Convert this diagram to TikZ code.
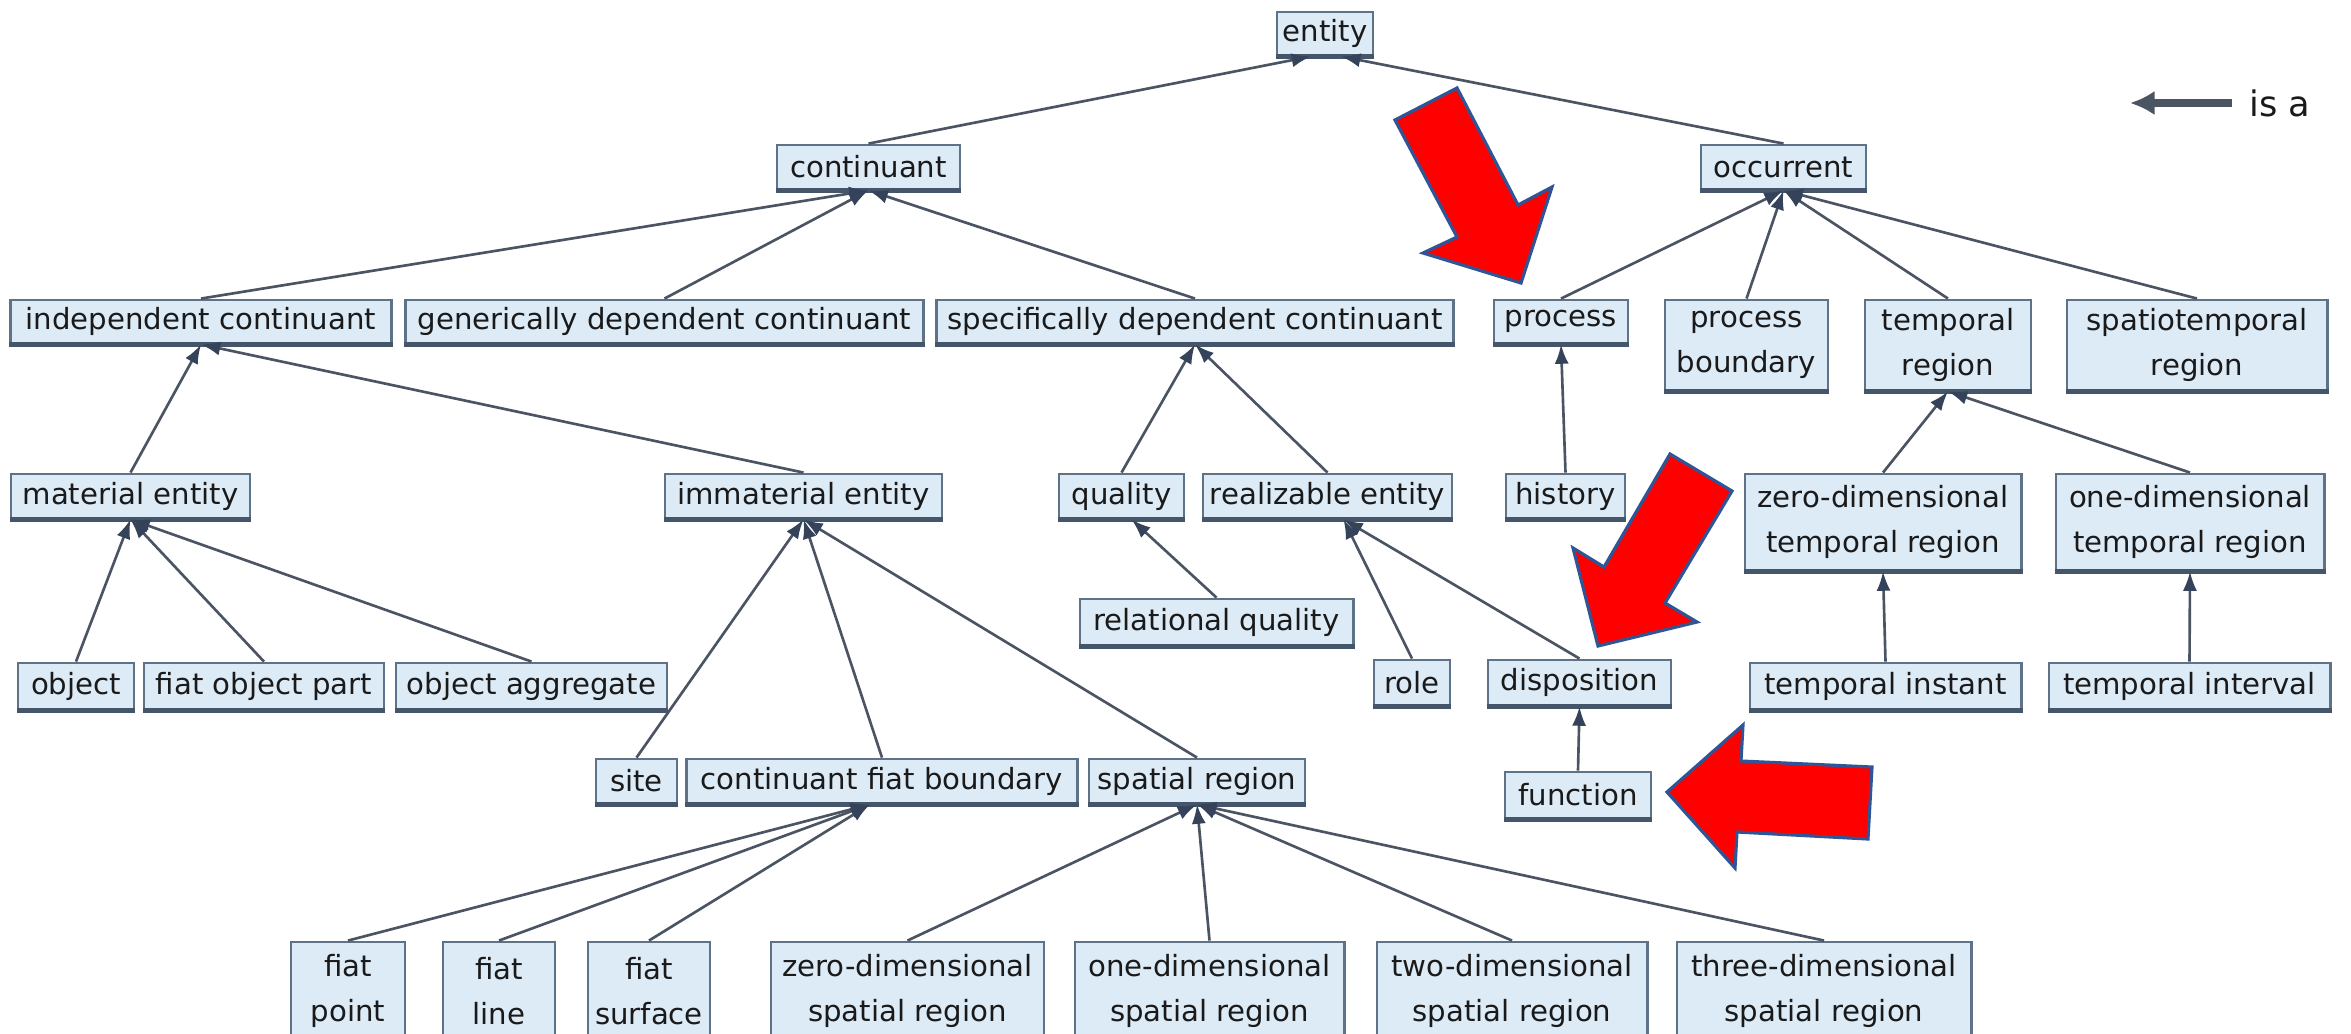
\documentclass[tikz,border=0pt]{standalone}
\usepackage{fontspec}
\setmainfont{DejaVu Sans}
\usetikzlibrary{arrows.meta,calc}
\definecolor{boxfill}{HTML}{DDEBF7}
\definecolor{boxline}{HTML}{5F7388}
\definecolor{boxshade}{HTML}{46566A}
\definecolor{linkc}{HTML}{4A5462}
\definecolor{headc}{HTML}{34435A}
\definecolor{txt}{HTML}{1A1A1A}
\definecolor{arrowred}{HTML}{FF0000}
\definecolor{arrowedge}{HTML}{2F5597}
\newcommand\obox[6]{\node[box, minimum width={(#4-#2)*0.1mm}, minimum height={(#5-#3)*0.1mm}] (#1) at ({(#2+#4)/2},{(#3+#5)/2}) {#6};
  \draw[shadeline] (#1.south west) -- (#1.south east);}
\begin{document}
\begin{tikzpicture}[x=0.01cm,y=-0.01cm,
  box/.style={draw=boxline, fill=boxfill, line width=0.8pt, inner sep=0pt, align=center, font=\fontsize{8.3}{12.8}\selectfont, text=txt},
  shadeline/.style={draw=boxshade, line width=1.2pt},
  isa/.style={draw=linkc, line width=0.75pt, -{Latex[length=5.5pt,width=4pt,fill=headc,color=headc]}},
  redarrow/.style={fill=arrowred, draw=arrowedge, line width=0.9pt, line join=miter}]
\useasboundingbox[fill=white] (0,0) rectangle (2351,1033);
\obox{entity}{1277}{12}{1373}{55}{entity}
\obox{cont}{777}{145}{960}{189}{continuant}
\obox{occ}{1701}{145}{1866}{189}{occurrent}
\obox{ic}{11}{300}{391}{343}{independent continuant}
\obox{gdc}{406}{300}{923}{343}{generically dependent continuant}
\obox{sdc}{937}{300}{1453}{343}{specifically dependent continuant}
\obox{proc}{1494}{300}{1628}{343}{process}
\obox{pb}{1665}{300}{1828}{390}{process\\boundary}
\obox{tr}{1865}{300}{2031}{390}{temporal\\region}
\obox{str}{2067}{300}{2327}{390}{spatiotemporal\\region}
\obox{me}{11}{474}{250}{518}{material entity}
\obox{ime}{665}{474}{942}{518}{immaterial entity}
\obox{qual}{1059}{474}{1184}{518}{quality}
\obox{re}{1203}{474}{1452}{518}{realizable entity}
\obox{hist}{1506}{474}{1625}{518}{history}
\obox{zdtr}{1745}{474}{2021}{570}{zero-dimensional\\temporal region}
\obox{odtr}{2056}{474}{2324}{570}{one-dimensional\\temporal region}
\obox{rq}{1080}{599}{1353}{645}{relational quality}
\obox{obj}{18}{663}{134}{709}{object}
\obox{fop}{144}{663}{384}{709}{fiat object part}
\obox{oa}{396}{663}{667}{709}{object aggregate}
\obox{role}{1374}{660}{1450}{705}{role}
\obox{disp}{1488}{660}{1671}{705}{disposition}
\obox{tinst}{1750}{663}{2021}{709}{temporal instant}
\obox{tint}{2049}{663}{2330}{709}{temporal interval}
\obox{site}{596}{759}{677}{803}{site}
\obox{cfb}{687}{759}{1077}{803}{continuant fiat boundary}
\obox{sr}{1089}{759}{1305}{803}{spatial region}
\obox{func}{1505}{772}{1651}{818}{function}
\obox{fpt}{291}{942}{405}{1040}{fiat\\point}
\obox{fln}{443}{942}{555}{1040}{fiat\\line}
\obox{fsf}{588}{942}{710}{1040}{fiat\\surface}
\obox{zdsr}{771}{942}{1044}{1040}{zero-dimensional\\spatial region}
\obox{odsr}{1075}{942}{1344}{1040}{one-dimensional\\spatial region}
\obox{twdsr}{1377}{942}{1647}{1040}{two-dimensional\\spatial region}
\obox{thdsr}{1677}{942}{1971}{1040}{three-dimensional\\spatial region}
% is-a connectors
\draw[isa] (cont.north) -- ($(entity.south)+(-14,0)$);
\draw[isa] (occ.north) -- ($(entity.south)+(16,0)$);
\draw[isa] (ic.north) -- (cont.south);
\draw[isa] (gdc.north) -- (cont.south);
\draw[isa] (sdc.north) -- (cont.south);
\draw[isa] (proc.north) -- (occ.south);
\draw[isa] (pb.north) -- (occ.south);
\draw[isa] (tr.north) -- (occ.south);
\draw[isa] (str.north) -- (occ.south);
\draw[isa] (me.north) -- (ic.south);
\draw[isa] (ime.north) -- (ic.south);
\draw[isa] (qual.north) -- (sdc.south);
\draw[isa] (re.north) -- (sdc.south);
\draw[isa] (hist.north) -- (proc.south);
\draw[isa] (zdtr.north) -- (tr.south);
\draw[isa] (odtr.north) -- (tr.south);
\draw[isa] (rq.north) -- ($(qual.south)+(10,0)$);
\draw[isa] (obj.north) -- (me.south);
\draw[isa] (fop.north) -- (me.south);
\draw[isa] (oa.north) -- (me.south);
\draw[isa] (role.north) -- ($(re.south)+(16,0)$);
\draw[isa] (disp.north) -- ($(re.south)+(16,0)$);
\draw[isa] (tinst.north) -- (zdtr.south);
\draw[isa] (tint.north) -- (odtr.south);
\draw[isa] (site.north) -- (ime.south);
\draw[isa] (cfb.north) -- (ime.south);
\draw[isa] (sr.north) -- (ime.south);
\draw[isa] (func.north) -- (disp.south);
\draw[isa] (fpt.north) -- ($(cfb.south)+(-12,0)$);
\draw[isa] (fln.north) -- ($(cfb.south)+(-12,0)$);
\draw[isa] (fsf.north) -- ($(cfb.south)+(-12,0)$);
\draw[isa] (zdsr.north) -- (sr.south);
\draw[isa] (odsr.north) -- (sr.south);
\draw[isa] (twdsr.north) -- (sr.south);
\draw[isa] (thdsr.north) -- (sr.south);
% legend
\coordinate (lgs) at (2232,103);
\coordinate (lge) at (2130,103);
\draw[line width=2pt, draw=linkc, -{Latex[length=7pt,width=7pt]}] (lgs) -- (lge);
\node[anchor=west, font=\fontsize{10}{12}\selectfont, text=txt, inner sep=0pt] (lgt) at (2249,103) {is a};
% red highlight arrows
\draw[redarrow] (1395,120) -- (1457,88) -- (1518,205) -- (1552,187) -- (1521,283) -- (1423,253) -- (1457,237) -- cycle;
\draw[redarrow] (1670,454) -- (1732,491) -- (1665,603) -- (1697,622) -- (1598,646) -- (1573,548) -- (1604,567) -- cycle;
\draw[redarrow] (1667,792) -- (1743,725) -- (1741,761) -- (1872,767) -- (1868,839) -- (1737,832) -- (1735,868) -- cycle;
\end{tikzpicture}
\end{document}
